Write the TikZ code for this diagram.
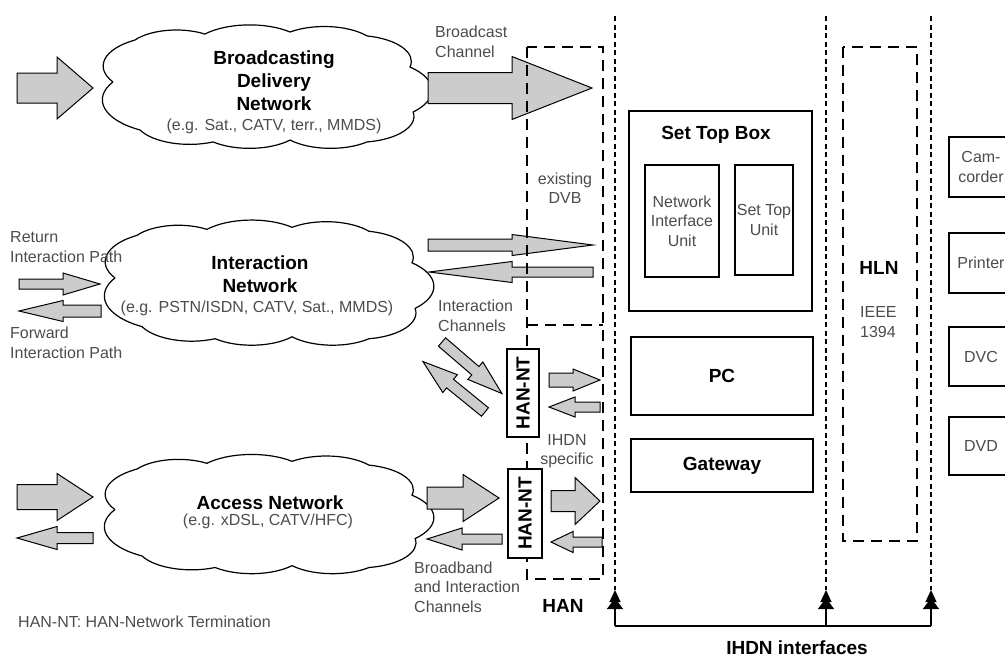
\documentclass[tikz,border=0pt]{standalone}
\usepackage{fontspec}
\setmainfont{Liberation Sans}
\usepackage{xcolor}
\usetikzlibrary{arrows.meta}

\definecolor{txtgray}{gray}{0.3}
\definecolor{arrgray}{gray}{0.8}

% tail x, neck x, tip x, y, half body, half head
\newcommand{\fatarrow}[6]{%
  \filldraw[fat] (#1,{#4-#5}) -- (#2,{#4-#5}) -- (#2,{#4-#6}) -- (#3,#4)
    -- (#2,{#4+#6}) -- (#2,{#4+#5}) -- (#1,{#4+#5}) -- cycle;}

% left, top, width, height
\newcommand{\cloudline}[4]{%
  \begin{scope}[shift={(#1,#2)}, xscale=#3, yscale=#4]
    \draw[puff] (0.025,0.479) to (0.094,0.192) to (0.314,0.151) to (0.582,0.137)
      to (0.824,0.164) to (0.959,0.377) to (0.969,0.685) to (0.824,0.890)
      to (0.582,0.877) to (0.340,0.890) to (0.110,0.808) to (0.025,0.479);
  \end{scope}}

\begin{document}
\begin{tikzpicture}[x=1pt,y=-1pt,
            fat/.style={fill=arrgray, draw=black, line width=1pt, line join=miter},
            puff/.style={draw, line width=1.2pt, bend left=45},
            unit/.style={draw, line width=1.4pt, fill=white, inner sep=0pt},
            lbl/.style={font=\fontsize{16}{19.5}\selectfont, text=txtgray, inner sep=0pt},
            hd/.style={font=\fontsize{19}{23}\selectfont\bfseries, inner sep=0pt},
            han/.style={line width=1.4pt, dash pattern=on 11pt off 7pt},
            vline/.style={line width=1.3pt, dash pattern=on 5pt off 3.5pt},
            ihdn/.style={line width=1.3pt, -{Triangle[width=16pt,length=11pt,sep=-4pt] Triangle[width=11pt,length=12pt]}}]
        \useasboundingbox (0,0) rectangle (1005,657);
        \clip (0,0) rectangle (1005,657);

        \cloudline{105}{12}{318}{146}
        \cloudline{107}{207}{318}{148}
        \cloudline{107}{442}{318}{141}

        \node[hd, align=center] (bdn-t) at (274,81) {Broadcasting\\Delivery\\Network};
        \node[lbl] (bdn-eg) at (274,126) {(e.g. Sat., CATV, terr., MMDS)};
        \node[hd, align=center] (in-t) at (260,274) {Interaction\\Network};
        \node[lbl] (in-eg) at (257,308) {(e.g. PSTN/ISDN, CATV, Sat., MMDS)};
        \node[hd] (an-t) at (270,503) {Access Network};
        \node[lbl] (an-eg) at (268,521) {(e.g. xDSL, CATV/HFC)};

        \fatarrow{17}{57}{93}{88}{15}{31}
        \fatarrow{428}{512}{592}{88}{15.5}{31.5}
        \fatarrow{19}{63}{100}{284}{5}{11}
        \fatarrow{101}{63}{19}{311}{6}{10.5}
        \fatarrow{428}{512}{593}{245}{6}{10.5}
        \fatarrow{593}{512}{429}{272}{5}{10.5}
        \fatarrow{17}{57}{93}{497}{12.5}{23.5}
        \fatarrow{93}{57}{17}{538}{5.5}{11.5}
        \fatarrow{427}{463}{499}{498}{11}{23.5}
        \fatarrow{502}{462}{427}{539}{5}{11}
        \fatarrow{551}{575}{600}{501}{10.5}{23.5}
        \fatarrow{602}{573}{551}{542}{5}{10.5}
        \fatarrow{549}{573}{600}{380}{7}{11}
        \fatarrow{600}{575}{549}{407}{5}{10}
        \begin{scope}[shift={(442,342)}, rotate=-40.7]
            \fatarrow{0}{44}{79}{0}{5.5}{11.5}
        \end{scope}
        \begin{scope}[shift={(485,412)}, rotate=140.9]
            \fatarrow{0}{45}{80}{0}{5.5}{11.5}
        \end{scope}

        \draw[han] (527,47) rectangle (603,579);
        \draw[han] (527,325) -- (603,325);
        \draw[han] (843,47) rectangle (917,541);

        \node[unit, rotate=90, minimum width=88pt, minimum height=32pt, hd] (nt1) at (523,393) {HAN-NT};
        \node[unit, rotate=90, minimum width=89pt, minimum height=34pt, hd] (nt2) at (525,513.5) {HAN-NT};

        \node[lbl, align=left, anchor=west] (bc) at (435,42) {Broadcast\\Channel};
        \node[lbl, align=center] (dvb) at (565,188) {existing\\DVB};
        \node[lbl, align=left, anchor=west] (ret) at (10,247) {Return\\Interaction Path};
        \node[lbl, align=left, anchor=west] (fwd) at (10,343) {Forward\\Interaction Path};
        \node[lbl, align=left, anchor=west] (ich) at (438,316) {Interaction\\Channels};
        \node[lbl, align=center] (spec) at (567,451) {IHDN\\specific};
        \node[lbl, align=left, anchor=west] (bbic) at (414,587) {Broadband\\and Interaction\\Channels};
        \node[hd] (hanlbl) at (563,606) {HAN};
        \node[lbl, anchor=west] (legend) at (18,622) {HAN-NT: HAN-Network Termination};

        \node[unit, minimum width=183pt, minimum height=200pt] (stb) at (720.5,211) {};
        \node[hd] (stb-t) at (716,135) {Set Top Box};
        \node[unit, minimum width=74pt, minimum height=112pt, lbl, align=center] (niu) at (682,221) {Network\\Interface\\Unit};
        \node[unit, minimum width=58pt, minimum height=110pt, lbl, align=center] (stu) at (764,220) {Set Top\\Unit};
        \node[unit, minimum width=182pt, minimum height=78pt, hd] (pc) at (722,376) {PC};
        \node[unit, minimum width=182pt, minimum height=53pt, hd] (gw) at (722,465.5) {Gateway};

        \node[hd] (hln) at (879,268) {HLN};
        \node[lbl, align=left, anchor=west] (ieee) at (860,322) {IEEE\\1394};

        \node[unit, minimum width=64pt, minimum height=60pt, lbl, align=center] (cam) at (981,167) {Cam-\\corder};
        \node[unit, minimum width=64pt, minimum height=60pt, lbl] (prn) at (981,263) {Printer};
        \node[unit, minimum width=64pt, minimum height=59pt, lbl] (dvc) at (981,356.5) {DVC};
        \node[unit, minimum width=64pt, minimum height=58pt, lbl] (dvd) at (981,446) {DVD};

        \coordinate (a1) at (615,590);
        \coordinate (a2) at (826,590);
        \coordinate (a3) at (931,590);
        \coordinate (t1) at (615,16);
        \coordinate (t2) at (826,16);
        \coordinate (t3) at (931,16);
        \coordinate (b1) at (615,626);
        \coordinate (b2) at (826,626);
        \coordinate (b3) at (931,626);
        \draw[vline] (t1) -- (a1);
        \draw[vline] (t2) -- (a2);
        \draw[vline] (t3) -- (a3);
        \draw[line width=1.3pt] (b1) -- (b3);
        \draw[ihdn] (b1) -- (a1);
        \draw[ihdn] (b2) -- (a2);
        \draw[ihdn] (b3) -- (a3);
        \node[hd] (ifc) at (797,648) {IHDN interfaces};
    \end{tikzpicture}
\end{document}
